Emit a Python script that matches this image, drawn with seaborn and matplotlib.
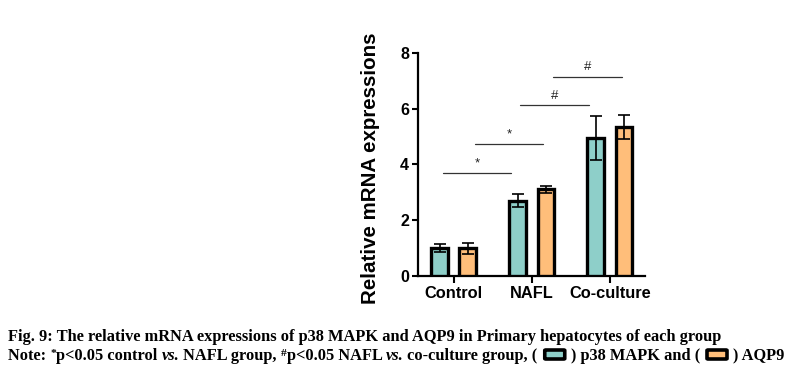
import pandas as pd
import matplotlib
matplotlib.use("Agg")
import matplotlib.pyplot as plt
import seaborn as sns
from matplotlib.patches import FancyBboxPatch

# Data
groups = ["Control", "NAFL", "Co-culture"]
genes = ["p38 MAPK", "AQP9"]
p38_mean = [1.0, 2.7, 4.95]
p38_err = [0.15, 0.22, 0.80]
aqp9_mean = [1.0, 3.1, 5.35]
aqp9_err = [0.20, 0.14, 0.43]
colors = ["#8ECFC9", "#FFBE7A"]

# significance brackets: (x start, x end, y, label)
sig_lines = [(-0.14, 0.73, 3.70, "*"),
             (0.27, 1.14, 4.72, "*"),
             (0.85, 1.73, 6.13, "#"),
             (1.27, 2.15, 7.14, "#")]

df = pd.DataFrame({
    "Group": groups * 2,
    "Gene": [genes[0]] * 3 + [genes[1]] * 3,
    "Value": p38_mean + aqp9_mean,
    "Err": p38_err + aqp9_err,
})

sns.set_style("ticks")
plt.rcParams["font.family"] = ["Liberation Sans", "DejaVu Sans"]
for k in ["text.color", "axes.labelcolor", "xtick.color", "ytick.color",
          "axes.edgecolor"]:
    plt.rcParams[k] = "black"

fig = plt.figure(figsize=(7.9, 3.79), dpi=100)
ax = fig.add_axes([418 / 790, 1 - 276 / 379, 227 / 790, 223.3 / 379])

sns.barplot(data=df, x="Group", y="Value", hue="Gene", palette=colors,
            saturation=1, errorbar=None, width=0.72, gap=0.4,
            edgecolor="black", linewidth=2.4, legend=False, ax=ax, zorder=3)

# error bars
for cont, gene in zip(ax.containers, genes):
    sub = df[df["Gene"] == gene]
    for bar, (_, row) in zip(cont, sub.iterrows()):
        xc = bar.get_x() + bar.get_width() / 2
        ax.errorbar(xc, row["Value"], yerr=row["Err"], color="black",
                    capsize=4, elinewidth=1.2, capthick=1.2, zorder=4)

for x0, x1, y, lab in sig_lines:
    ax.plot([x0, x1], [y, y], color="#333333", lw=0.9)
    ax.text((x0 + x1) / 2, y + 0.12, lab, ha="center", va="bottom",
            fontsize=9.5, color="#222222")

ax.set_ylim(0, 8)
ax.set_xlim(-0.46, 2.45)
ax.set_yticks([0, 2, 4, 6, 8])
ax.set_xlabel("")
ax.set_ylabel("Relative mRNA expressions", fontsize=14.8, fontweight="bold")
ax.yaxis.set_label_coords(-0.167, 0.484)
for lab in ax.get_xticklabels() + ax.get_yticklabels():
    lab.set_fontweight("bold")
ax.tick_params(axis="x", labelsize=11.8, length=5, width=1.5, pad=2)
ax.tick_params(axis="y", labelsize=11.5, length=4.5, width=1.5, pad=2)
sns.despine(ax=ax)
ax.spines["left"].set_linewidth(1.6)
ax.spines["bottom"].set_linewidth(1.6)

# caption
cap_font = ["Liberation Serif", "DejaVu Serif"]
fs = 11.8
renderer = fig.canvas.get_renderer()
W, H = fig.get_size_inches() * fig.dpi


def put(x, y, s, **kw):
    t = fig.text(x / W, 1 - y / H, s, family=cap_font, fontweight="bold",
                 va="baseline", ha="left", **kw)
    return x + t.get_window_extent(renderer).width


def swatch(x, y, color):
    w, h = 20, 9
    x += 7
    p = FancyBboxPatch((x / W, 1 - (y - 1) / H), w / W, h / H,
                       boxstyle="round,pad=0,rounding_size=0.0015",
                       transform=fig.transFigure, facecolor=color,
                       edgecolor="black", linewidth=2.6)
    fig.patches.append(p)
    return x + w + 6


y1, y2 = 341, 360
put(8, y1, "Fig. 9: The relative mRNA expressions of p38 MAPK and AQP9 "
           "in Primary hepatocytes of each group", fontsize=fs)

x = 8
x = put(x, y2, "Note: ", fontsize=fs)
x = put(x, y2 - 4, "*", fontsize=fs * 0.7)
x = put(x, y2, "p<0.05 control ", fontsize=fs)
x = put(x, y2, "vs.", fontsize=fs, style="italic")
x = put(x, y2, " NAFL group, ", fontsize=fs)
x = put(x, y2 - 4, "#", fontsize=fs * 0.7)
x = put(x, y2, "p<0.05 NAFL ", fontsize=fs)
x = put(x, y2, "vs.", fontsize=fs, style="italic")
x = put(x, y2, " co-culture group, (", fontsize=fs)
x = swatch(x, y2, colors[0])
x = put(x, y2, ") p38 MAPK and (", fontsize=fs)
x = swatch(x, y2, colors[1])
x = put(x, y2, ") AQP9", fontsize=fs)

fig.savefig("out.png", dpi=100)
